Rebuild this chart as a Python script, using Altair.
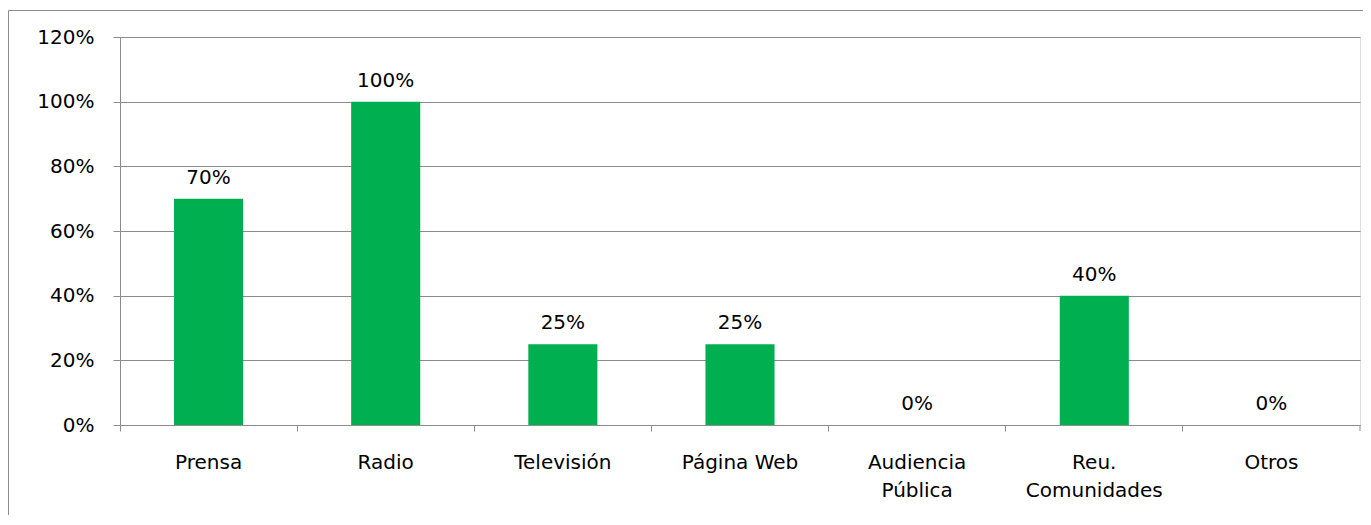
import altair as alt
import pandas as pd

categories = ["Prensa", "Radio", "Televisión", "Página Web", "Audiencia|Pública", "Reu.|Comunidades", "Otros"]
values = [0.70, 1.00, 0.25, 0.25, 0.0, 0.40, 0.0]
labels = ["70%", "100%", "25%", "25%", "0%", "40%", "0%"]
y_ticks = [0, 0.2, 0.4, 0.6, 0.8, 1.0, 1.2]

df = pd.DataFrame({"cat": categories, "val": values, "lab": labels})

FONT = "DejaVu Sans"
FS = 20
GRAY = "#8c8c8c"

x_enc = alt.X(
    "cat:N",
    sort=categories,
    scale=alt.Scale(paddingInner=0, paddingOuter=0),
    axis=alt.Axis(
        title=None,
        labelAngle=0,
        labelExpr="split(datum.label, '|')",
        labelFont=FONT,
        labelFontSize=FS,
        labelColor="black",
        labelPadding=21,
        labelLineHeight=28,
        labelBaseline="top",
        bandPosition=0,
        ticks=True,
        tickSize=6,
        tickColor=GRAY,
        domainColor=GRAY,
        grid=False,
    ),
)

y_enc = alt.Y(
    "val:Q",
    scale=alt.Scale(domain=[0, 1.2], nice=False),
    axis=alt.Axis(
        title=None,
        values=y_ticks,
        format=".0%",
        labelFont=FONT,
        labelFontSize=FS,
        labelColor="black",
        labelPadding=19,
        tickSize=7,
        tickColor=GRAY,
        domainColor=GRAY,
        gridColor=GRAY,
        grid=True,
    ),
)

bars = alt.Chart(df).mark_bar(color="#00B050", width=alt.RelativeBandSize(0.39)).encode(
    x=x_enc, y=y_enc
)

text = alt.Chart(df).mark_text(
    font=FONT, fontSize=FS, color="black", baseline="alphabetic", dy=-15
).encode(
    x=alt.X("cat:N", sort=categories),
    y="val:Q",
    text="lab:N",
)

end_tick = alt.Chart(pd.DataFrame({"a": [0]})).mark_rule(color=GRAY).encode(
    x=alt.value(1240), y=alt.value(388), y2=alt.value(394)
)

frame = alt.Chart(pd.DataFrame({"a": [0]})).mark_rect(
    fill=None, fillOpacity=0, stroke=GRAY, strokeWidth=1
).encode(
    x=alt.value(-111.5), x2=alt.value(1270), y=alt.value(-26.5), y2=alt.value(520)
)

chart = alt.layer(frame, bars, text, end_tick).properties(
    width=1240,
    height=388,
    autosize=alt.AutoSizeParams(type="none"),
    padding={"left": 112, "top": 29, "right": 3, "bottom": 90},
).configure_view(stroke=None).configure(background="white")

chart.save("out.html", embed_options={"renderer": "svg", "actions": False})
